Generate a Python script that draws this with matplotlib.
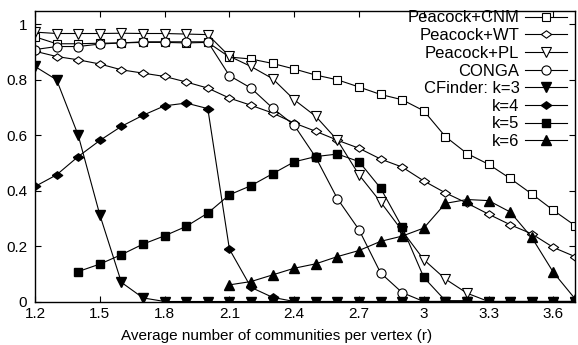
import numpy as np
import matplotlib.pyplot as plt

plt.rcParams['font.family'] = ['Liberation Sans', 'DejaVu Sans']

# average number of communities per vertex
r = np.round(np.arange(1.2, 3.71, 0.1), 1)

cnm = [0.955, 0.93, 0.93, 0.932, 0.933, 0.935, 0.935, 0.933, 0.935, 0.882,
       0.875, 0.859, 0.839, 0.817, 0.80, 0.774, 0.747, 0.728, 0.688, 0.595,
       0.534, 0.495, 0.444, 0.388, 0.329, 0.274]
wt = [0.903, 0.884, 0.872, 0.857, 0.836, 0.824, 0.812, 0.792, 0.770, 0.734,
      0.708, 0.680, 0.644, 0.614, 0.582, 0.553, 0.514, 0.485, 0.435, 0.392,
      0.355, 0.315, 0.277, 0.244, 0.195, 0.162]
pl = [0.972, 0.967, 0.967, 0.967, 0.968, 0.967, 0.967, 0.965, 0.963, 0.885,
      0.848, 0.804, 0.728, 0.668, 0.582, 0.457, 0.359, 0.255, 0.151, 0.081,
      0.03, 0.0, 0.0, 0.0, 0.0, 0.0]
conga = [0.909, 0.92, 0.92, 0.929, 0.933, 0.937, 0.937, 0.937, 0.937, 0.815,
         0.770, 0.698, 0.636, 0.52, 0.371, 0.259, 0.103, 0.032, 0.0, 0.0,
         0.0, 0.0, 0.0, 0.0, 0.0, 0.0]
k3 = [0.848, 0.80, 0.60, 0.313, 0.069, 0.013, 0.0, 0.0, 0.0, 0.0,
      0.0, 0.0, 0.0, 0.0, 0.0, 0.0, 0.0, 0.0, 0.0, 0.0,
      0.0, 0.0, 0.0, 0.0, 0.0, 0.0]
k4 = [0.415, 0.457, 0.523, 0.581, 0.632, 0.672, 0.706, 0.716, 0.696, 0.189,
      0.051, 0.015, 0.0, 0.0, 0.0, 0.0, 0.0, 0.0, 0.0, 0.0,
      0.0, 0.0, 0.0, 0.0, 0.0, 0.0]
# k=5 runs from r=1.4 to 3.2, k=6 from r=2.1 to 3.7
k5 = [0.108, 0.135, 0.169, 0.207, 0.237, 0.271, 0.319, 0.385, 0.418, 0.461,
      0.504, 0.523, 0.532, 0.505, 0.409, 0.268, 0.087, 0.003, 0.003]
k6 = [0.06, 0.072, 0.096, 0.12, 0.136, 0.162, 0.184, 0.217, 0.236, 0.265,
      0.354, 0.368, 0.364, 0.323, 0.231, 0.105, 0.01]

# wide diamond like the gnuplot one
wide_d = [(-1, 0), (0, 0.72), (1, 0), (0, -0.72), (-1, 0)]

fig = plt.figure(figsize=(5.78, 3.45), dpi=100)
ax = fig.add_axes([35 / 578, 43.5 / 345, 540 / 578, 291 / 345])

lw = 0.8
ms = 5.6
ax.plot(r, cnm, color='k', lw=lw, marker='s', ms=ms, mfc='white', mew=0.8,
        label='Peacock+CNM')
ax.plot(r, wt, color='k', lw=lw, marker=wide_d, ms=ms + 1.8, mfc='white', mew=0.8,
        label='Peacock+WT')
ax.plot(r, pl, color='k', lw=lw, marker='v', ms=ms + 1.2, mfc='white', mew=0.8,
        label='Peacock+PL')
ax.plot(r, conga, color='k', lw=lw, marker='o', ms=ms + 1, mfc='white', mew=0.8,
        label='CONGA')
ax.plot(r, k3, color='k', lw=lw, marker='v', ms=ms + 1.2,
        label='CFinder: k=3')
ax.plot(r, k4, color='k', lw=lw, marker=wide_d, ms=ms + 1.8, label='k=4')
ax.plot(r[2:21], k5, color='k', lw=lw, marker='s', ms=ms, label='k=5')
ax.plot(r[9:], k6, color='k', lw=lw, marker='^', ms=ms + 1.2, label='k=6')

ax.set_xlim(1.2, 3.7)
ax.set_ylim(0, 1.05)
ax.set_xticks([1.2, 1.5, 1.8, 2.1, 2.4, 2.7, 3.0, 3.3, 3.6])
ax.set_xticklabels(['1.2', '1.5', '1.8', '2.1', '2.4', '2.7', '3', '3.3', '3.6'])
ax.set_yticks([0, 0.2, 0.4, 0.6, 0.8, 1.0])
ax.set_yticklabels(['0', '0.2', '0.4', '0.6', '0.8', '1'])
ax.tick_params(direction='in', length=4, width=0.8, labelsize=11,
               top=True, right=True)
ax.tick_params(axis='x', pad=4)
ax.tick_params(axis='y', pad=5.5)
for s in ax.spines.values():
    s.set_linewidth(1.0)

ax.set_xlabel('Average number of communities per vertex (r)', fontsize=11,
              labelpad=1)
ax.xaxis.set_label_coords((277 - 35) / 540, -0.095)

leg = ax.legend(loc='upper right', markerfirst=False, frameon=False,
                fontsize=12, handlelength=2.5, handletextpad=0.35,
                labelspacing=0.16, borderaxespad=0.0, borderpad=0.0,
                bbox_to_anchor=(0.985, 1.0))

fig.savefig('out.png', dpi=100)
